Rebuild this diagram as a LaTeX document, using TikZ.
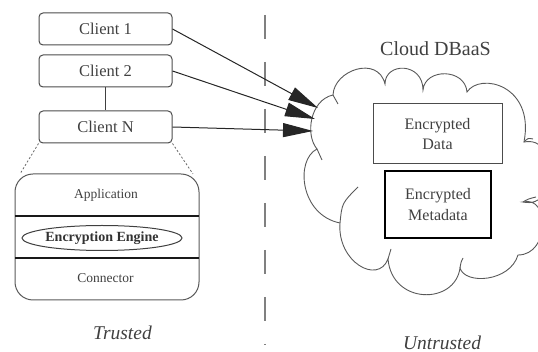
\documentclass[tikz,border=0pt]{standalone}
\usepackage{fontspec}
\setmainfont{Liberation Serif}
\usetikzlibrary{arrows.meta,shapes.geometric}
\begin{document}
\begin{tikzpicture}[x=1pt,y=-1pt,
  txt/.style={text=black!75, inner sep=0pt},
  client/.style={draw=black!70, line width=1pt, rounded corners=4pt,
    minimum width=133pt, minimum height=32pt, inner sep=0pt,
    text=black!75, font=\fontsize{16.5}{19}\selectfont},
  stackbox/.style={draw=black!65, line width=1pt, rounded corners=18pt,
    minimum width=184pt, minimum height=126pt, inner sep=0pt},
  sepline/.style={draw=black!90, line width=1.1pt},
  stacktxt/.style={txt, font=\fontsize{13.5}{16}\selectfont},
  engine/.style={ellipse, draw=black!75, line width=1pt, minimum width=146pt,
    minimum height=25pt, inner sep=0pt, text=black!80,
    font=\fontsize{14}{16}\selectfont\bfseries},
  dotline/.style={draw=black!60, line width=0.8pt, dash pattern=on 2pt off 2pt},
  divider/.style={draw=black!50, line width=1.3pt, dash pattern=on 24pt off 23pt},
  arr/.style={draw=black!85, line width=1pt, -{Triangle[length=30pt,width=14pt]}},
  cloudline/.style={draw=black!65, line width=0.9pt},
  databox/.style={draw=black!70, line width=1pt, minimum width=129pt,
    minimum height=60pt, inner sep=0pt, align=center, text=black!75,
    font=\fontsize{16}{20}\selectfont},
  metabox/.style={draw=black, line width=2pt, minimum width=106pt,
    minimum height=67pt, inner sep=0pt, align=center, text=black!75,
    font=\fontsize{16}{21}\selectfont},
  sidelabel/.style={txt, font=\fontsize{19.5}{22}\selectfont\itshape},
  titlelabel/.style={txt, font=\fontsize{20}{22}\selectfont}
]
\useasboundingbox (0,0) rectangle (538,352);

% cloud (clipped at the right edge like the reference)
\begin{scope}
\clip (0,0) rectangle (538,352);
\draw[cloudline] (333,95)
  .. controls (334,70) and (378,55) .. (385,84)
  .. controls (385,62) and (423,62) .. (423,90)
  .. controls (425,68) and (465,68) .. (467,92)
  .. controls (480,72) and (535,85) .. (524,142)
  .. controls (560,135) and (560,210) .. (523,202)
  .. controls (550,195) and (550,255) .. (518,255)
  .. controls (510,282) and (465,285) .. (460,268)
  .. controls (455,305) and (392,305) .. (388,259)
  .. controls (378,285) and (337,262) .. (340,223)
  .. controls (300,215) and (295,160) .. (317,149)
  .. controls (305,135) and (310,100) .. cycle;
% small folds at the cusps
\draw[cloudline] (317,149) .. controls (319,154) .. (322,160);
\draw[cloudline] (340,223) .. controls (342,203) .. (358,187);
\draw[cloudline] (388,259) .. controls (389,254) .. (391,249);
\draw[cloudline] (333,95) .. controls (335,100) .. (338,104);
\draw[cloudline] (524,142) .. controls (528,138) .. (533,139);
\draw[cloudline] (523,202) .. controls (528,199) .. (536,197);
\draw[cloudline] (460,268) .. controls (461,262) .. (463,258);
\end{scope}

% clients
\node[client] (c1) at (105.5,29) {Client 1};
\node[client] (c2) at (105.5,71) {Client 2};
\node[client] (cN) at (105.5,127) {Client N};
\draw[draw=black!75, line width=1pt] (c2) -- (cN);

% expanded client stack
\node[stackbox] (stack) at (107,237) {};
\coordinate (s1) at (20,174);
\coordinate (s2) at (193,174);
\draw[dotline] (cN.south west) -- (s1);
\draw[dotline] (cN.south east) -- (s2);
\coordinate (l1a) at (15,216);
\coordinate (l1b) at (199,216);
\coordinate (l2a) at (15,258);
\coordinate (l2b) at (199,258);
\draw[sepline] (l1a) -- (l1b);
\draw[sepline] (l2a) -- (l2b);
\node[stacktxt] (app) at (106,195) {Application};
\node[engine] (eng) at (102,238) {Encryption Engine};
\node[stacktxt] (conn) at (105.5,278.5) {Connector};

% trust boundary
\coordinate (d1) at (265,15);
\coordinate (d2) at (265,345);
\draw[divider] (d1) -- (d2);

% arrows into the cloud
\coordinate (t1) at (318,108);
\coordinate (t2) at (315,119);
\coordinate (t3) at (313,131);
\draw[arr] (c1.east) -- (t1);
\draw[arr] (c2.east) -- (t2);
\draw[arr] (cN.east) -- (t3);

% cloud contents
\node[titlelabel] (cloud) at (435.5,48.5) {Cloud DBaaS};
\node[databox] (data) at (437.5,134) {Encrypted\\Data};
\node[metabox] (meta) at (438,205) {Encrypted\\Metadata};

% side labels
\node[sidelabel] (trusted) at (122.5,333) {Trusted};
\node[sidelabel] (untrusted) at (442,342.5) {Untrusted};
\end{tikzpicture}
\end{document}
